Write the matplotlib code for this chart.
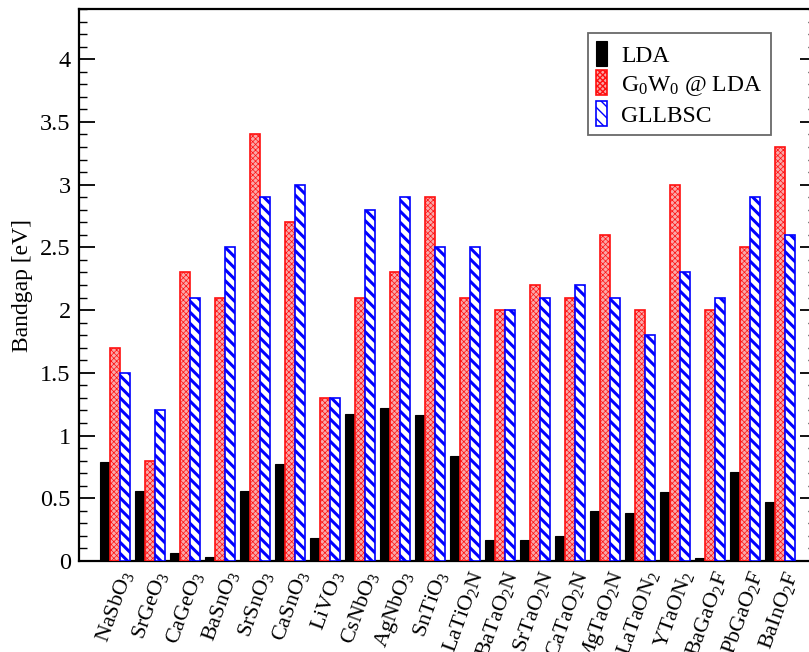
import numpy as np
import matplotlib
matplotlib.use("Agg")
import matplotlib.pyplot as plt
from matplotlib.ticker import MultipleLocator
from matplotlib.transforms import ScaledTranslation

plt.rcParams['font.family'] = ['Liberation Serif', 'DejaVu Serif']
plt.rcParams['mathtext.fontset'] = 'custom'
plt.rcParams['mathtext.rm'] = 'Liberation Serif'
plt.rcParams['mathtext.it'] = 'Liberation Serif:italic'

materials = [
    "NaSbO$_3$", "SrGeO$_3$", "CaGeO$_3$", "BaSnO$_3$", "SrSnO$_3$",
    "CaSnO$_3$", "LiVO$_3$", "CsNbO$_3$", "AgNbO$_3$", "SnTiO$_3$",
    "LaTiO$_2$N", "BaTaO$_2$N", "SrTaO$_2$N", "CaTaO$_2$N", "MgTaO$_2$N",
    "LaTaON$_2$", "YTaON$_2$", "BaGaO$_2$F", "PbGaO$_2$F", "BaInO$_2$F",
]
lda = [0.79, 0.56, 0.06, 0.03, 0.56, 0.77, 0.18, 1.17, 1.22, 1.16,
       0.84, 0.17, 0.17, 0.20, 0.40, 0.38, 0.55, 0.02, 0.71, 0.47]
g0w0 = [1.7, 0.8, 2.3, 2.1, 3.4, 2.7, 1.3, 2.1, 2.3, 2.9,
        2.1, 2.0, 2.2, 2.1, 2.6, 2.0, 3.0, 2.0, 2.5, 3.3]
gllbsc = [1.5, 1.2, 2.1, 2.5, 2.9, 3.0, 1.3, 2.8, 2.9, 2.5,
          2.5, 2.0, 2.1, 2.2, 2.1, 1.8, 2.3, 2.1, 2.9, 2.6]

fig = plt.figure(figsize=(8.09, 6.52), dpi=100)
ax = fig.add_axes([79 / 809, 91 / 652, (816 - 79) / 809, (561 - 9) / 652])

x = np.arange(len(materials))
w = 10 / 35.05

ax.bar(x - w, lda, width=w, color='black', edgecolor='black', linewidth=0.8,
       label='LDA', zorder=3)

with plt.rc_context({'hatch.linewidth': 0.5}):
    ax.bar(x, g0w0, width=w, facecolor='#f9a8a8', edgecolor='#ff1010',
           hatch='xxxxxx', linewidth=1.2, label='G$_0$W$_0$ @ LDA', zorder=3)

with plt.rc_context({'hatch.linewidth': 2.2}):
    ax.bar(x + w, gllbsc, width=w, facecolor='white', edgecolor='#0000ff',
           hatch='\\\\\\', linewidth=1.2, label='GLLBSC', zorder=3)

ax.set_xlim(-1.03, 20.03)
ax.set_ylim(0, 4.4)

ax.yaxis.set_major_locator(MultipleLocator(0.5))
ax.yaxis.set_minor_locator(MultipleLocator(0.1))
ax.set_yticklabels([f"{v:g}" for v in ax.get_yticks()])
ax.tick_params(axis='y', which='major', direction='in', length=11.5, width=1.3,
               right=True, labelsize=17.5, pad=6)
ax.tick_params(axis='y', which='minor', direction='in', length=5.8, width=1.0,
               right=True)

ax.set_xticks(x)
ax.set_xticklabels(materials, rotation=70, ha='right', rotation_mode='anchor',
                   fontsize=16)
ax.tick_params(axis='x', length=0, pad=5)
offset = ScaledTranslation(3 / 100, 0, fig.dpi_scale_trans)
for lab in ax.get_xticklabels():
    lab.set_transform(lab.get_transform() + offset)

for s in ax.spines.values():
    s.set_linewidth(1.6)

ax.set_ylabel('Bandgap [eV]', fontsize=17, labelpad=5)

leg = ax.legend(loc='upper left', bbox_to_anchor=((588 - 79) / 737, 1 - (33 - 9) / 552),
                fontsize=17, frameon=True, fancybox=False, edgecolor='#444444',
                handlelength=0.45, handleheight=1.25, handletextpad=0.6,
                labelspacing=0.15, borderpad=0.35, borderaxespad=0)
leg.get_frame().set_linewidth(1.3)

fig.savefig('out.png', dpi=100)
